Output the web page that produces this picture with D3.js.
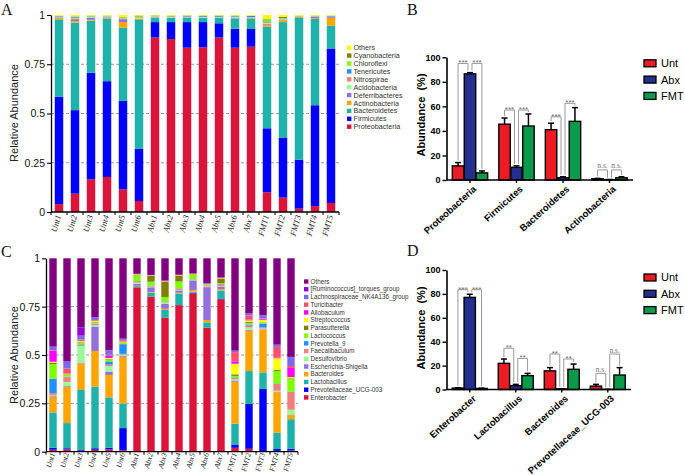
<!DOCTYPE html>
<html><head><meta charset="utf-8">
<script src="https://cdn.jsdelivr.net/npm/d3@7"></script>
<style>body{margin:0;background:#fff}svg{display:block}</style>
</head><body>
<svg id="fig" width="685" height="475"></svg>
<script>
// ---------------- DATA ----------------
const samples = ["Unt1","Unt2","Unt3","Unt4","Unt5","Unt6","Abx1","Abx2","Abx3","Abx4","Abx5","Abx6","Abx7","FMT1","FMT2","FMT3","FMT4","FMT5"];

// Panel A: phylum relative abundance (stack order bottom -> top)
const phylumNames = ["Proteobacteria","Firmicutes","Bacteroidetes","Actinobacteria","Deferribacteres","Acidobacteria","Nitrospirae","Tenericutes","Chloroflexi","Cyanobacteria","Others"];
const phylumColors = ["#dc143c","#0000ff","#20b2aa","#ffa500","#9370db","#98fb98","#f08080","#1e90ff","#7fff00","#808000","#ffff00"];
const proteobacteria = [0.040,0.093,0.166,0.178,0.115,0.056,0.886,0.878,0.834,0.836,0.886,0.834,0.839,0.100,0.073,0.017,0.030,0.046];
const firmicutes     = [0.545,0.424,0.541,0.486,0.449,0.266,0.078,0.086,0.130,0.128,0.072,0.096,0.090,0.325,0.305,0.249,0.512,0.784];
const bacteroidetes  = [0.393,0.444,0.264,0.316,0.372,0.653,0.021,0.021,0.021,0.021,0.027,0.053,0.051,0.515,0.586,0.722,0.438,0.116];
const actinobacteria = [0.008,0.008,0.005,0.004,0.028,0.005,0.002,0.002,0.002,0.002,0.002,0.002,0.004,0.010,0.010,0.005,0.004,0.040];
const deferribacteres= [0.002,0.010,0.010,0.004,0.015,0.002,0.002,0.001,0.002,0.001,0.001,0.002,0.002,0.004,0.003,0.001,0.006,0.008];
const acidobacteria  = [0.001,0.003,0.003,0.003,0.003,0.004,0.003,0.002,0.002,0.002,0.002,0.003,0.002,0.006,0.002,0.001,0.002,0.001];
const nitrospirae    = [0.002,0.003,0.002,0.002,0.002,0.002,0.001,0.002,0.001,0.001,0.001,0.002,0.001,0.005,0.002,0.001,0.002,0.001];
const tenericutes    = [0.003,0.004,0.002,0.001,0.002,0.001,0.001,0.002,0.004,0.004,0.005,0.003,0.006,0.003,0.002,0.001,0.001,0.001];
const chloroflexi    = [0.001,0.002,0.003,0.002,0.003,0.004,0.002,0.002,0.001,0.002,0.001,0.002,0.001,0.010,0.002,0.000,0.001,0.000];
const cyanobacteria  = [0.001,0.002,0.001,0.001,0.001,0.004,0.002,0.001,0.001,0.001,0.001,0.001,0.001,0.002,0.005,0.000,0.001,0.000];
const otherPhyla     = [0.004,0.007,0.003,0.003,0.010,0.003,0.002,0.003,0.002,0.002,0.002,0.002,0.003,0.020,0.010,0.003,0.003,0.003];

// Panel C: genus relative abundance (stack order bottom -> top)
const genusNames = ["Enterobacter","Prevotellaceae_UCG-003","Lactobacillus","Bacteroides","Escherichia-Shigella","Desulfovibrio","Faecalibaculum","Prevotella_9","Lactococcus","Parasutterella","Streptococcus","Allobaculum","Turicibacter","Lachnospiraceae_NK4A136_group","[Ruminococcus]_torques_group","Others"];
const genusColors = ["#dc143c","#0000ff","#20b2aa","#ffa500","#9370db","#98fb98","#f08080","#1e90ff","#7fff00","#808000","#ffff00","#ff00ff","#ff4f70","#7b68ee","#9400d3","#800080"];
const enterobacter    = [0.010,0.012,0.005,0.010,0.012,0.008,0.850,0.802,0.693,0.758,0.819,0.641,0.788,0.020,0.015,0.003,0.004,0.006];
const prevotellaceae  = [0.010,0.006,0.006,0.008,0.008,0.114,0.000,0.000,0.000,0.000,0.003,0.000,0.004,0.017,0.232,0.322,0.010,0.010];
const lactobacillus   = [0.183,0.130,0.308,0.318,0.261,0.127,0.006,0.020,0.040,0.060,0.006,0.028,0.042,0.108,0.170,0.085,0.084,0.152];
const bacteroides     = [0.080,0.187,0.138,0.185,0.116,0.242,0.002,0.003,0.006,0.004,0.008,0.012,0.006,0.217,0.209,0.222,0.210,0.022];
const escherichia     = [0.004,0.004,0.003,0.126,0.017,0.004,0.010,0.025,0.025,0.012,0.050,0.170,0.012,0.006,0.004,0.002,0.002,0.002];
const desulfovibrio   = [0.004,0.022,0.087,0.006,0.028,0.007,0.006,0.003,0.008,0.003,0.002,0.003,0.003,0.006,0.012,0.003,0.005,0.025];
const faecalibaculum  = [0.012,0.024,0.004,0.006,0.008,0.004,0.008,0.005,0.004,0.006,0.002,0.004,0.010,0.006,0.010,0.006,0.035,0.092];
const prevotella9     = [0.075,0.003,0.004,0.003,0.017,0.050,0.001,0.001,0.002,0.002,0.001,0.002,0.002,0.004,0.006,0.020,0.003,0.002];
const lactococcus     = [0.075,0.008,0.008,0.007,0.010,0.006,0.030,0.020,0.022,0.035,0.025,0.003,0.005,0.008,0.008,0.004,0.065,0.066];
const parasutterella  = [0.006,0.004,0.003,0.003,0.004,0.003,0.002,0.030,0.078,0.030,0.002,0.002,0.022,0.008,0.005,0.002,0.005,0.003];
const streptococcus   = [0.006,0.003,0.008,0.004,0.004,0.005,0.002,0.002,0.002,0.002,0.002,0.001,0.002,0.055,0.008,0.012,0.060,0.006];
const allobaculum     = [0.057,0.002,0.004,0.002,0.012,0.003,0.000,0.000,0.000,0.000,0.000,0.000,0.000,0.012,0.004,0.004,0.003,0.047];
const turicibacter    = [0.003,0.025,0.003,0.003,0.004,0.005,0.002,0.002,0.002,0.002,0.001,0.003,0.004,0.048,0.022,0.004,0.056,0.010];
const lachnospiraceae = [0.017,0.035,0.019,0.012,0.023,0.005,0.001,0.001,0.002,0.001,0.000,0.002,0.001,0.006,0.008,0.016,0.010,0.045];
const ruminococcus    = [0.003,0.002,0.042,0.002,0.002,0.002,0.000,0.000,0.001,0.000,0.000,0.000,0.000,0.002,0.002,0.002,0.002,0.002];
const otherGenera     = [0.455,0.533,0.358,0.305,0.474,0.415,0.080,0.086,0.115,0.085,0.079,0.129,0.099,0.477,0.285,0.293,0.446,0.510];

const yTicksRel = [0, 0.25, 0.5, 0.75, 1];

// Panels B & D: group means (%) and SEM
const groupNames = ["Unt","Abx","FMT"];
const groupColors = ["#ec1c24","#232e8e","#0b9a4b"];
const yTicksPct = [0, 20, 40, 60, 80, 100];

const phylaB = ["Proteobacteria","Firmicutes","Bacteroidetes","Actinobacteria"];
const untPhylaMean = [11.5, 45.5, 41.0, 1.0];
const untPhylaErr  = [2.7, 5.0, 5.3, 0.3];
const abxPhylaMean = [86.5, 10.3, 1.9, 0.3];
const abxPhylaErr  = [1.0, 1.2, 0.8, 0.1];
const fmtPhylaMean = [5.8, 44.0, 47.8, 1.8];
const fmtPhylaErr  = [1.6, 9.8, 11.2, 0.8];
// [category, fromGroup, toGroup, bracket level (%), label]
const sigPhyla = [[0,0,1,95,"***"],[0,1,2,95,"***"],[1,0,1,57,"***"],[1,1,2,57,"***"],[2,0,1,51.5,"***"],[2,1,2,62.5,"***"],[3,0,1,8.2,"n.s."],[3,1,2,8.2,"n.s."]];

const generaD = ["Enterobacter","Lactobacillus","Bacteroides","Prevotellaceae_UCG-003"];
const untGeneraMean = [1.2, 21.9, 15.6, 2.8];
const untGeneraErr  = [0.3, 3.6, 2.7, 1.5];
const abxGeneraMean = [77.1, 3.2, 0.5, 0.1];
const abxGeneraErr  = [2.6, 1.1, 0.1, 0.05];
const fmtGeneraMean = [0.9, 11.6, 16.9, 12.1];
const fmtGeneraErr  = [0.2, 1.9, 4.4, 6.2];
const sigGenera = [[0,0,1,83.5,"***"],[0,1,2,83.5,"***"],[1,0,1,34.5,"**"],[1,1,2,26,"**"],[2,0,1,29.7,"**"],[2,1,2,25.5,"**"],[3,0,1,13.5,"n.s."],[3,1,2,29.7,"n.s."]];

// ---------------- DRAWING ----------------
const SANS = "'Liberation Sans', Arial, Helvetica, sans-serif";
const SERIF = "'Liberation Serif', 'Times New Roman', serif";
const svg = d3.select("#fig");

function panelLetter(t, x, y) {
  svg.append("text").attr("x", x).attr("y", y).attr("font-family", SERIF)
    .attr("font-size", 16).attr("fill", "#111").text(t);
}

function stackedPanel(cfg) {
  const {names, series, colors, left, right, top, bottom, legendX, legendY, legendStep, legendFont, yLabelX, yLabelY, labelFont, labelGap} = cfg;
  const rows = samples.map((s, i) => {
    const r = {sample: s};
    names.forEach((n, k) => { r[n] = series[k][i]; });
    return r;
  });
  const layers = d3.stack().keys(names)(rows);
  const pad = 0.47;
  const x = d3.scaleBand().domain(samples).range([left, right]).paddingInner(pad).paddingOuter(pad / 2);
  const y = d3.scaleLinear().domain([0, 1]).range([bottom, top]);
  const g = svg.append("g");

  g.append("g").selectAll("line").data(yTicksRel.filter(d => d > 0 && d < 1)).join("line")
    .attr("x1", left).attr("x2", right).attr("y1", d => y(d)).attr("y2", d => y(d))
    .attr("stroke", "#9a9a9a").attr("stroke-width", 1).attr("stroke-dasharray", "3,2");

  g.append("g").selectAll("g").data(layers).join("g").attr("fill", (d, i) => colors[i])
    .selectAll("rect").data(d => d).join("rect")
    .attr("x", d => x(d.data.sample)).attr("width", x.bandwidth())
    .attr("y", d => y(d[1])).attr("height", d => Math.max(0, y(d[0]) - y(d[1])));

  const ya = g.append("g").attr("transform", `translate(${left},0)`)
    .call(d3.axisLeft(y).tickValues(yTicksRel).tickFormat(d3.format("")).tickSize(4).tickSizeOuter(0).tickPadding(2));
  ya.select(".domain").attr("stroke", "#000").attr("stroke-width", 1.3);
  ya.selectAll(".tick line").attr("stroke", "#000").attr("stroke-width", 1.1);
  ya.selectAll(".tick text").attr("font-family", SANS).attr("font-size", 10.5).attr("fill", "#111");

  // x axis line + boundary ticks
  g.append("line").attr("x1", left).attr("x2", right).attr("y1", bottom).attr("y2", bottom)
    .attr("stroke", "#000").attr("stroke-width", 1.3);
  const first = x(samples[0]) - x.step() * pad / 2;
  g.append("g").selectAll("line").data(d3.range(samples.length + 1)).join("line")
    .attr("x1", i => first + i * x.step()).attr("x2", i => first + i * x.step())
    .attr("y1", bottom).attr("y2", bottom + 3).attr("stroke", "#000").attr("stroke-width", 1);

  g.append("g").selectAll("text").data(samples).join("text")
    .attr("transform", s => `translate(${x(s) + x.bandwidth() / 2 + 2},${bottom + labelGap}) rotate(-75)`)
    .attr("text-anchor", "end").attr("font-family", SERIF).attr("font-style", "italic")
    .attr("font-size", labelFont).attr("fill", "#222").text(s => s);

  g.append("text").attr("transform", `translate(${yLabelX},${yLabelY}) rotate(-90)`)
    .attr("text-anchor", "middle").attr("font-family", SANS).attr("font-size", 11).attr("fill", "#222")
    .text("Relative Abundance");

  // legend (top entry = last stacked layer)
  const legendItems = names.map((n, i) => ({n, c: colors[i]})).reverse();
  const lg = g.append("g").selectAll("g").data(legendItems).join("g")
    .attr("transform", (d, i) => `translate(${legendX},${legendY + i * legendStep})`);
  lg.append("rect").attr("x", 0).attr("y", -2.2).attr("width", 4.4).attr("height", 4.4).attr("fill", d => d.c);
  lg.append("text").attr("x", 6.5).attr("dy", "0.35em").attr("font-family", SANS)
    .attr("font-size", legendFont).attr("fill", "#333").text(d => d.n);
}

function groupedPanel(cfg) {
  const {cats, means, errs, sig, left, right, top, bottom, legendY, yLabelY} = cfg;
  const x = d3.scaleBand().domain(cats).range([left, right]).paddingInner(0.24).paddingOuter(0.125);
  const xg = d3.scaleBand().domain(groupNames).range([0, x.bandwidth()]).paddingInner(0.04);
  const y = d3.scaleLinear().domain([0, 100]).range([bottom, top]);
  const g = svg.append("g");
  const cx = (ci, gi) => x(cats[ci]) + xg(groupNames[gi]) + xg.bandwidth() / 2;

  const recs = [];
  cats.forEach((c, ci) => groupNames.forEach((gn, gi) => recs.push({ci, gi, v: means[gi][ci], e: errs[gi][ci]})));

  // error bars (upper only)
  const eb = g.append("g").selectAll("g").data(recs).join("g");
  eb.append("line").attr("x1", d => cx(d.ci, d.gi)).attr("x2", d => cx(d.ci, d.gi))
    .attr("y1", d => y(d.v)).attr("y2", d => y(d.v + d.e)).attr("stroke", "#000").attr("stroke-width", 1.5);
  eb.append("line").attr("x1", d => cx(d.ci, d.gi) - 3).attr("x2", d => cx(d.ci, d.gi) + 3)
    .attr("y1", d => y(d.v + d.e)).attr("y2", d => y(d.v + d.e)).attr("stroke", "#000").attr("stroke-width", 1.5);

  g.append("g").selectAll("rect").data(recs).join("rect")
    .attr("x", d => x(cats[d.ci]) + xg(groupNames[d.gi])).attr("width", xg.bandwidth())
    .attr("y", d => y(d.v)).attr("height", d => y(0) - y(d.v))
    .attr("fill", d => groupColors[d.gi]).attr("stroke", "#000").attr("stroke-width", 1.4);

  // significance brackets
  const sg = g.append("g").selectAll("g").data(sig).join("g");
  const legX = (ci, gi, side) => cx(ci, gi) + (gi === 1 ? (side === "l" ? 2 : -2) : 0);
  const legBottom = (ci, gi) => y(means[gi][ci] + errs[gi][ci]) - 2;
  sg.append("path")
    .attr("d", d => {
      const lx = legX(d[0], d[1], "l"), rx = legX(d[0], d[2], "r"), yl = y(d[3]);
      return `M${lx},${legBottom(d[0], d[1])}V${yl}H${rx}V${legBottom(d[0], d[2])}`;
    })
    .attr("fill", "none").attr("stroke", "#9a9a9a").attr("stroke-width", 1);
  sg.append("text")
    .attr("x", d => (legX(d[0], d[1], "l") + legX(d[0], d[2], "r")) / 2)
    .attr("y", d => d[4] === "n.s." ? y(d[3]) - 1.5 : y(d[3]) + 1.8)
    .attr("text-anchor", "middle")
    .attr("font-family", d => d[4] === "n.s." ? SERIF : SANS)
    .attr("font-size", d => d[4] === "n.s." ? 7.5 : 8)
    .attr("fill", "#6e6e6e").text(d => d[4]);

  // axes
  const ya = g.append("g").attr("transform", `translate(${left},0)`)
    .call(d3.axisLeft(y).tickValues(yTicksPct).tickSize(4).tickSizeOuter(0).tickPadding(2));
  ya.select(".domain").attr("stroke", "#000").attr("stroke-width", 1.6);
  ya.selectAll(".tick line").attr("stroke", "#000").attr("stroke-width", 1.4);
  ya.selectAll(".tick text").attr("font-family", SANS).attr("font-weight", "bold").attr("font-size", 9).attr("fill", "#000");
  g.append("line").attr("x1", left).attr("x2", right).attr("y1", bottom).attr("y2", bottom)
    .attr("stroke", "#000").attr("stroke-width", 1.6);
  g.append("g").selectAll("line").data(cats).join("line")
    .attr("x1", c => x(c) + x.bandwidth() / 2).attr("x2", c => x(c) + x.bandwidth() / 2)
    .attr("y1", bottom).attr("y2", bottom + 3).attr("stroke", "#000").attr("stroke-width", 1.4);

  g.append("g").selectAll("text").data(cats).join("text")
    .attr("transform", c => `translate(${x(c) + x.bandwidth() / 2 + 7},${bottom + 10}) rotate(-42)`)
    .attr("text-anchor", "end").attr("font-family", SANS).attr("font-weight", "bold")
    .attr("font-size", 9.5).attr("fill", "#000").text(c => c);

  g.append("text").attr("transform", `translate(${left - 22},${yLabelY}) rotate(-90)`)
    .attr("text-anchor", "middle").attr("font-family", SANS).attr("font-weight", "bold")
    .attr("font-size", 11).attr("fill", "#000").style("white-space", "pre").text("Abundance  (%)");

  // legend
  const lg = g.append("g").selectAll("g").data(groupNames).join("g")
    .attr("transform", (d, i) => `translate(644,${legendY + i * 16.3})`);
  lg.append("rect").attr("x", 0).attr("y", -3.5).attr("width", 12).attr("height", 7)
    .attr("fill", (d, i) => groupColors[i]).attr("stroke", "#000").attr("stroke-width", 1.3);
  lg.append("text").attr("x", 17).attr("dy", "0.36em").attr("font-family", SANS)
    .attr("font-size", 11).attr("fill", "#000").text(d => d);
}

panelLetter("A", 1, 15);
panelLetter("B", 407, 15);
panelLetter("C", 1, 257);
panelLetter("D", 407, 256);

stackedPanel({
  names: phylumNames,
  series: [proteobacteria, firmicutes, bacteroidetes, actinobacteria, deferribacteres, acidobacteria, nitrospirae, tenericutes, chloroflexi, cyanobacteria, otherPhyla],
  colors: phylumColors, left: 51, right: 339, top: 15, bottom: 212,
  legendX: 347, legendY: 47.7, legendStep: 7.9, legendFont: 7.2, yLabelX: 17.5, yLabelY: 113,
  labelFont: 8.5, labelGap: 4
});

stackedPanel({
  names: genusNames,
  series: [enterobacter, prevotellaceae, lactobacillus, bacteroides, escherichia, desulfovibrio, faecalibaculum, prevotella9, lactococcus, parasutterella, streptococcus, allobaculum, turicibacter, lachnospiraceae, ruminococcus, otherGenera],
  colors: genusColors, left: 46, right: 298, top: 258.3, bottom: 451.7,
  legendX: 304, legendY: 281.5, legendStep: 7.73, legendFont: 6.3, yLabelX: 17.5, yLabelY: 355,
  labelFont: 7.6, labelGap: 2
});

groupedPanel({
  cats: phylaB,
  means: [untPhylaMean, abxPhylaMean, fmtPhylaMean],
  errs: [untPhylaErr, abxPhylaErr, fmtPhylaErr],
  sig: sigPhyla, left: 446.5, right: 633, top: 57.3, bottom: 180, legendY: 63.3, yLabelY: 115
});

groupedPanel({
  cats: generaD,
  means: [untGeneraMean, abxGeneraMean, fmtGeneraMean],
  errs: [untGeneraErr, abxGeneraErr, fmtGeneraErr],
  sig: sigGenera, left: 446.5, right: 631, top: 270, bottom: 389.5, legendY: 277.5, yLabelY: 328
});
</script>
</body></html>
